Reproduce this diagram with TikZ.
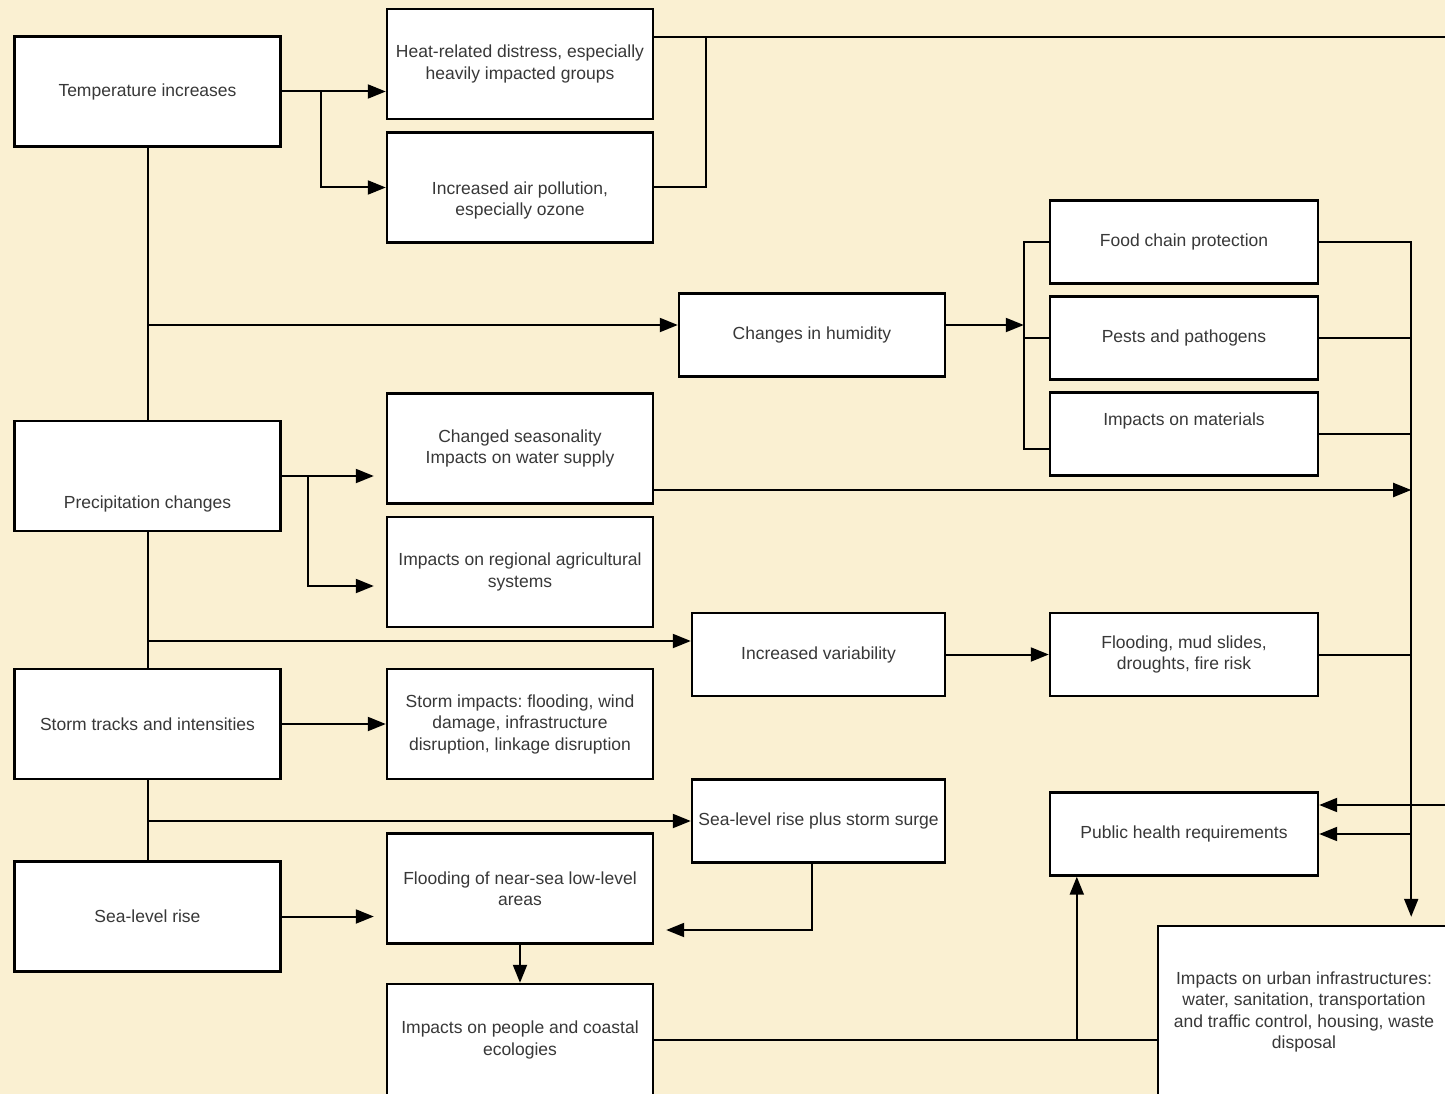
\documentclass[tikz,border=0pt]{standalone}
\usepackage{fontspec}
\setmainfont{Liberation Sans}
\usetikzlibrary{arrows.meta,calc}
\definecolor{paper}{RGB}{250,240,210}
\frenchspacing
\begin{document}
\begin{tikzpicture}[x=1pt,y=-1pt,
    >={Triangle[length=18pt,width=14pt]},
    box/.style={draw,fill=white,line width=2.4pt,align=center,inner sep=2pt,
      font=\fontsize{17.5}{21.5}\selectfont,text=black!78},
    wide/.style={box,minimum width=266pt,minimum height=110pt},
    slim/.style={box,minimum width=268pt,minimum height=83pt},
    link/.style={line width=2pt}]
  \clip (0,0) rectangle (1445,1094);
  \fill[paper] (0,0) rectangle (1445,1094);

  \node[wide] (temp) at (147.5,91.5) {Temperature increases};
  \node[wide] (heat) at (520,64) {Heat-related distress, especially\\heavily impacted groups};
  \node[wide,text height=56.5pt,text depth=0pt] (air) at (520,187.5) {Increased air pollution,\\especially ozone};
  \node[slim,minimum width=266pt] (humid) at (812,335) {Changes in humidity};
  \node[slim] (food) at (1184,242) {Food chain protection};
  \node[slim] (pests) at (1184,338) {Pests and pathogens};
  \node[slim,text height=0pt,text depth=17pt] (mater) at (1184,434) {Impacts on materials};
  \node[wide,text height=65pt,text depth=0pt] (precip) at (147.5,476) {Precipitation changes};
  \node[wide] (season) at (520,448.5) {Changed seasonality\\Impacts on water supply};
  \node[wide] (agri) at (520,572) {Impacts on regional agricultural\\systems};
  \node[slim,minimum width=253pt] (vari) at (818.5,654.5) {Increased variability};
  \node[slim] (flood) at (1184,654.5) {Flooding, mud slides,\\droughts, fire risk};
  \node[wide] (storm) at (147.5,724) {Storm tracks and intensities};
  \node[wide] (stimp) at (520,724) {Storm impacts: flooding, wind\\damage, infrastructure\\disruption, linkage disruption};
  \node[slim,minimum width=253pt] (surge) at (818.5,821) {Sea-level rise plus storm surge};
  \node[slim] (health) at (1184,834) {Public health requirements};
  \node[wide] (sealev) at (147.5,916.5) {Sea-level rise};
  \node[wide] (lowflood) at (520,888.5) {Flooding of near-sea low-level\\areas};
  \node[wide,minimum height=112pt] (people) at (520,1040) {Impacts on people and coastal\\ecologies};
  \node[box,minimum width=292pt,minimum height=172pt] (urban) at (1304,1012) {Impacts on urban infrastructures:\\water, sanitation, transportation\\and traffic control, housing, waste\\disposal};

  \coordinate (topedge) at (1445,37);
  \coordinate (sideedge) at (1445,805);
  \coordinate (airj) at (706,37);
  \coordinate (humin) at ([yshift=10pt]humid.west);
  \coordinate (humout) at ([yshift=10pt]humid.east);
  \coordinate (brk) at ([xshift=-25pt]food.west |- humout);
  \coordinate (matin) at ([yshift=-15pt]mater.west);
  \coordinate (colx) at ([xshift=92pt]food.east);
  \coordinate (seasout) at ([yshift=-41.5pt]season.east);
  \coordinate (varin) at ([yshift=13.5pt]vari.west);
  \coordinate (phin) at ([xshift=28pt]health.south west);

  \draw[link,->] (temp.east) -- (temp.east -| heat.west);
  \draw[link,->] ([xshift=39pt]temp.east) |- (air.west);
  \draw[link] (heat.east |- topedge) -- (topedge);
  \draw[link] (air.east) -| (airj);
  \draw[link] (temp.south) -- (precip.north);
  \draw[link] (precip.south) -- (storm.north);
  \draw[link] (storm.south) -- (sealev.north);
  \draw[link,->] (temp.south |- humin) -- (humin);
  \draw[link,->] (humout) -- (brk);
  \draw[link] (food.west) -| (brk) |- (matin);
  \draw[link] (pests.west) -- (pests.west -| brk);
  \draw[link,->,shorten >=8pt] (food.east) -| (urban.north -| colx);
  \draw[link] (pests.east) -- (pests.east -| colx);
  \draw[link] (mater.east) -- (mater.east -| colx);
  \draw[link] (flood.east) -- (flood.east -| colx);
  \draw[link,->] (seasout) -- (seasout -| colx);
  \draw[link,->,shorten >=12pt] (precip.east) -- (precip.east -| season.west);
  \draw[link,->,shorten >=12pt] ([xshift=26pt]precip.east) |- ([yshift=-14pt]agri.west);
  \draw[link,->] (precip.south |- varin) -- (varin);
  \draw[link,->] (vari.east) -- (flood.west);
  \draw[link,->] (storm.east) -- (stimp.west);
  \draw[link,->] (storm.south |- surge.west) -- (surge.west);
  \draw[link,->,shorten >=12pt] (sealev.east) -- (sealev.east -| lowflood.west);
  \draw[link,->,shorten >=12pt] ([xshift=-6.5pt]surge.south) |- ([yshift=-41.5pt]lowflood.east);
  \draw[link,->] (lowflood.south) -- (people.north);
  \draw[link] (people.east) -- (people.east -| urban.west);
  \draw[link,->] (phin |- people.east) -- (phin);
  \draw[link,->] (sideedge) -- (sideedge -| health.east);
  \draw[link,->] (health.east -| colx) -- (health.east);
\end{tikzpicture}
\end{document}
